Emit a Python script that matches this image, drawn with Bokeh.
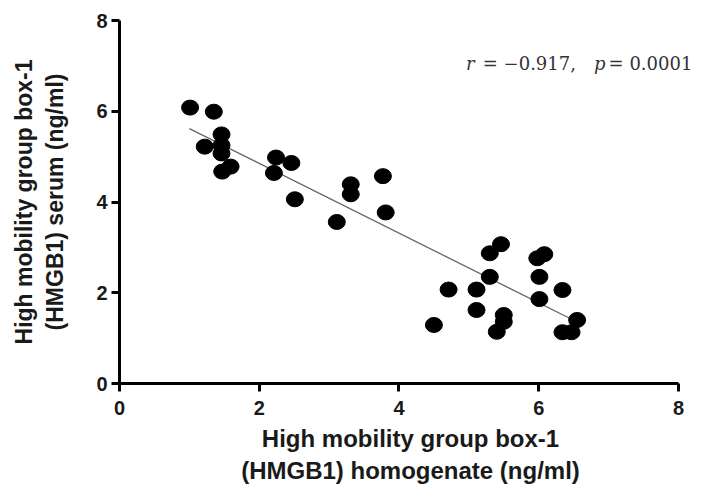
import numpy as np
from bokeh.plotting import figure
from bokeh.models import Range1d, FixedTicker, Label
from bokeh.embed import file_html
from bokeh.resources import INLINE

homogenate = [1.01, 1.35, 1.46, 1.22, 1.46, 1.46, 1.47, 1.59, 2.24, 2.46, 2.21, 2.51,
              3.31, 3.31, 3.77, 3.81, 3.11, 5.46, 5.30, 6.08, 5.98, 6.01, 5.30, 4.71,
              5.11, 6.34, 6.01, 5.11, 5.50, 5.50, 5.40, 4.50, 6.55, 6.34, 6.47]
serum = [6.08, 5.99, 5.49, 5.22, 5.25, 5.07, 4.67, 4.78, 4.98, 4.86, 4.64, 4.06,
         4.39, 4.17, 4.57, 3.77, 3.56, 3.07, 2.87, 2.85, 2.76, 2.35, 2.35, 2.07,
         2.07, 2.06, 1.86, 1.62, 1.51, 1.36, 1.14, 1.29, 1.40, 1.13, 1.13]
ticks = [0, 2, 4, 6, 8]
fit_x = [1.0, 6.45]
stat_parts = ["r", "= \u22120.917,", "p", "= 0.0001"]
stat_x = [4.96, 5.20, 6.79, 7.0]
stat_y = 7.05
stat_italic = [True, False, True, False]

# frame extends past x=8 so the statistics text is not clipped; axis stops at 8
p = figure(width=702, height=488, output_backend="svg", toolbar_location=None,
           x_range=Range1d(0, 8.33), y_range=Range1d(0, 8),
           frame_width=582, frame_height=363,
           min_border_left=119, min_border_top=20, min_border_right=1, min_border_bottom=105)
p.outline_line_color = None
p.xgrid.visible = False
p.ygrid.visible = False
p.background_fill_color = "white"
p.border_fill_color = "white"

for ax in (p.xaxis[0], p.yaxis[0]):
    ax.ticker = FixedTicker(ticks=ticks)
    ax.bounds = (0, 8)
    ax.axis_line_width = 3
    ax.axis_line_color = "black"
    ax.major_tick_line_width = 3
    ax.major_tick_line_color = "black"
    ax.major_tick_out = 8
    ax.major_tick_in = 0
    ax.minor_tick_line_color = None
    ax.major_label_text_font = "Liberation Sans"
    ax.major_label_text_font_style = "bold"
    ax.major_label_text_font_size = "20px"
    ax.major_label_text_color = "#1a1a1a"
    ax.axis_label_text_font = "Liberation Sans"
    ax.axis_label_text_font_style = "bold"
    ax.axis_label_text_color = "#1a1a1a"

p.xaxis.axis_label = "High mobility group box-1\n(HMGB1) homogenate (ng/ml)"
p.yaxis.axis_label = "High mobility group box-1\n(HMGB1) serum (ng/ml)"
p.xaxis.axis_label_text_font_size = "24px"
p.yaxis.axis_label_text_font_size = "23px"
p.xaxis.major_label_standoff = 9
p.yaxis.major_label_standoff = 4
p.xaxis.axis_label_standoff = 7
p.yaxis.axis_label_standoff = 25

slope, intercept = np.polyfit(homogenate, serum, 1)
fx = np.array(fit_x)
p.line(fx, slope * fx + intercept, line_color="#666666", line_width=1.3)

p.ellipse(homogenate, serum, width=17, height=15, width_units="screen", height_units="screen",
          fill_color="black", line_color="black")

for txt, xx, it in zip(stat_parts, stat_x, stat_italic):
    p.add_layout(Label(x=xx, y=stat_y, text=txt, text_font="DejaVu Serif",
                       text_font_size="18px", text_baseline="middle",
                       text_font_style="italic" if it else "normal", text_color="#333333"))

open("out.html", "w").write(file_html(p, INLINE))
